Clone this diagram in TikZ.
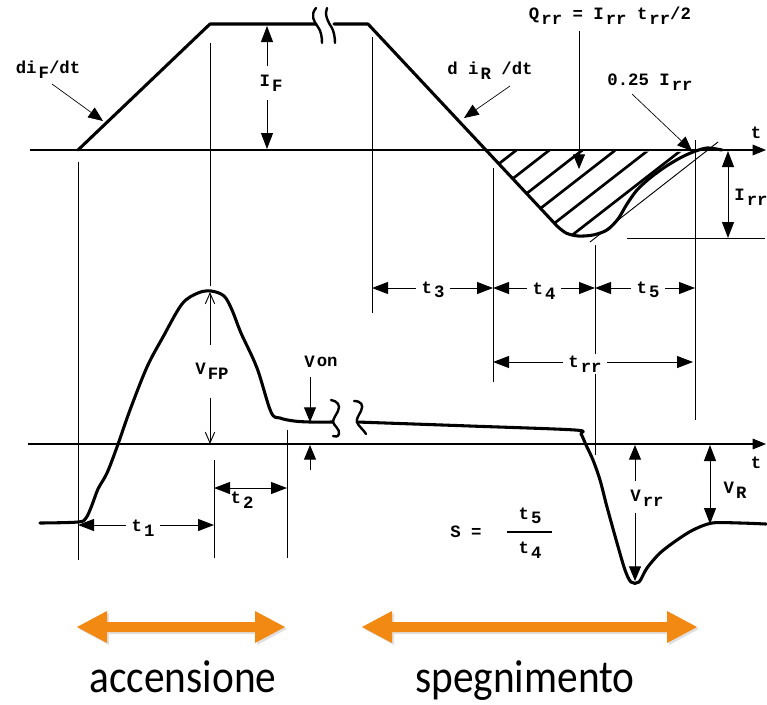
\documentclass[tikz,border=0pt]{standalone}
\usepackage{fontspec}
\setmainfont{Liberation Serif}
\newfontfamily\calfont{Carlito}
\newfontfamily\labfont{Liberation Mono}
\usetikzlibrary{arrows.meta,calc}
\definecolor{orangeA}{RGB}{242,137,18}
\newcommand{\lsb}[1]{\kern1.5pt\raisebox{-0.5ex}{#1}}
\begin{document}
\begin{tikzpicture}[x=0.75pt,y=-0.75pt,
  thinln/.style={line width=0.7pt},
  heavy/.style={line width=2.3pt, line join=round, line cap=round},
  brk/.style={line width=1.8pt, line cap=round},
  dimarr/.style={line width=0.7pt, {Triangle[length=12pt,width=9pt]}-{Triangle[length=12pt,width=9pt]}},
  onearr/.style={line width=0.7pt, -{Triangle[length=11pt,width=9pt]}},
  openarr/.style={line width=0.7pt, -{Straight Barb[length=8pt,width=7pt]}},
  axisarr/.style={line width=0.8pt, -{Triangle[length=10pt,width=8pt]}},
  ptrarr/.style={line width=0.5pt, -{Triangle[length=11pt,width=9pt]}},
  lbl/.style={font=\labfont\bfseries\fontsize{13}{15}\selectfont, inner sep=1.5pt},
  lblw/.style={lbl, fill=white, inner xsep=4pt},
  bigtxt/.style={font=\calfont\fontsize{31}{36}\selectfont, inner sep=0pt, anchor=base},
  orangedbl/.style={fill=orangeA}
]
\useasboundingbox (0,0) rectangle (767,704);

% ---------------- axes ----------------
\coordinate (ta0) at (30,150);  \coordinate (ta1) at (766,150);
\coordinate (va0) at (28,444);  \coordinate (va1) at (766,444);
\draw[axisarr] (ta0) -- (ta1);
\draw[axisarr] (va0) -- (va1);
\node[lbl] (tlabTop) at (756,133) {t};
\node[lbl] (tlabBot) at (756,463) {t};

% ---------------- vertical guide lines ----------------
\draw[thinln] (78,162) -- (78,560);
\draw[thinln] (210,43) -- (210,286);
\draw[thinln] (214,460) -- (214,558);
\draw[thinln] (287,430) -- (287,558);
\draw[thinln] (372,37) -- (372,313);
\draw[thinln] (493,168) -- (493,382);
\draw[thinln] (595,245) -- (595,455);
\draw[thinln] (695,140) -- (695,420);
\draw[thinln] (627,238) -- (765,238);

% ---------------- hatching ----------------
\begin{scope}
\clip (487,150) -- (557,226) -- plot[smooth] coordinates {(557,226) (566,233) (578,236) (593,235) (607,230) (618,219) (627,204) (637,190) (650,178) (665,167) (680,158) (693,152)} -- cycle;
\foreach \xx in {517,550,583,616,649,682}{
  \draw[line width=2pt] (\xx+15,138) -- ++(-180,140);
}
\end{scope}

% ---------------- current waveform ----------------
\draw[heavy] (78,150) -- (210,24) -- (316,24);
\draw[heavy] (334,24) -- (368,24) -- (557,226)
  -- plot[smooth] coordinates {(557,226) (566,233) (578,236) (593,235) (607,230) (618,219) (627,204) (637,190) (650,178) (665,167) (680,158) (693,152) (707,148) (722,150)};
\draw[thinln] (590,242) -- (718,142);
\draw[brk] (316,8) .. controls (310,15) and (314,22) .. (318,27) .. controls (321,31) and (322,37) .. (322,43);
\draw[brk] (327,8) .. controls (324,14) and (328,22) .. (332,28) .. controls (334,32) and (335,38) .. (335,43);

% ---------------- current labels ----------------
\node[lbl] (diF) at (48,70) {di\lsb{F}/dt};
\coordinate (diFs) at (52,84); \coordinate (diFe) at (103,121);
\draw[ptrarr] (diFs) -- (diFe);

\coordinate (IFt) at (267,26); \coordinate (IFb) at (267,149);
\draw[dimarr] (IFt) -- (IFb);
\node[lblw, inner ysep=7pt] (IF) at (271,83) {I\lsb{F}};

\node[lbl] (diR) at (490,71) {d i\lsb{R} /dt};
\coordinate (diRs) at (510,86); \coordinate (diRe) at (464,118);
\draw[ptrarr] (diRs) -- (diRe);

\node[lbl] (Qrr) at (610,16) {Q\lsb{rr} = I\lsb{rr} t\lsb{rr}/2};
\coordinate (Qs) at (579,31); \coordinate (Qe) at (579,169);
\draw[onearr] (Qs) -- (Qe);

\node[lbl] (q25) at (650,82) {0.25 I\lsb{rr}};
\coordinate (q25s) at (632,94); \coordinate (q25e) at (692,151);
\draw[ptrarr] (q25s) -- (q25e);

\coordinate (Irrt) at (728,151); \coordinate (Irrb) at (728,238);
\draw[dimarr] (Irrt) -- (Irrb);
\node[lbl] (Irr) at (751,197) {I\lsb{rr}};

% ---------------- time dimensions ----------------
\coordinate (t3a) at (372,288); \coordinate (t3b) at (493,288);
\coordinate (t4b) at (595,288); \coordinate (t5b) at (695,288);
\draw[dimarr] (t3a) -- (t3b);
\draw[dimarr] (t3b) -- (t4b);
\draw[dimarr] (t4b) -- (t5b);
\node[lblw] (t3) at (433,290) {t\lsb{3}};
\node[lblw] (t4) at (544,291) {t\lsb{4}};
\node[lblw] (t5) at (648,290) {t\lsb{5}};

\coordinate (trra) at (493,362); \coordinate (trrb) at (693,362);
\draw[dimarr] (trra) -- (trrb);
\node[lblw] (trr) at (585,364) {t\lsb{rr}};

\coordinate (t1a) at (78,525); \coordinate (t1b) at (214,525);
\draw[dimarr] (t1a) -- (t1b);
\node[lblw] (t1) at (143,528) {t\lsb{1}};

\coordinate (t2a) at (214,488); \coordinate (t2b) at (287,488);
\draw[dimarr] (t2a) -- (t2b);
\node[lbl] (t2) at (242,500) {t\lsb{2}};

% ---------------- voltage waveform ----------------
\draw[heavy] plot[smooth, tension=0.55] coordinates {(40,523) (78,522) (86,518) (92,505) (98,489) (107,473) (117,447) (130,410) (147,367) (163,337) (182,304) (198,293) (211,291) (224,296) (232,310) (241,333) (257,368) (271,412) (280,418) (294,421) (310,422) (333,422)};
\draw[brk] (331,400) .. controls (337,401) and (341,405) .. (338,411) .. controls (336,415) and (333,419) .. (333,422) .. controls (334,426) and (340,429) .. (339,434) .. controls (338,437) and (335,437) .. (333,436);
\draw[brk] (354,401) .. controls (361,401) and (364,405) .. (361,411) .. controls (359,415) and (356,419) .. (357,422) .. controls (358,426) and (364,430) .. (366,434);
\draw[heavy] plot[smooth, tension=0.5] coordinates {(357,422) (470,426) (575,430) (581,434) (586,445) (593,460) (600,480) (607,507) (617,543) (625,570) (631,582) (639,582) (647,568) (660,553) (677,540) (693,530) (712,523) (740,523) (766,524)};

% ---------------- voltage labels ----------------
\node[lbl] (VFP) at (212,371) {V\lsb{FP}};
\coordinate (VFPt) at (210,292); \coordinate (VFPb) at (210,444);
\draw[openarr] ($(VFPt)+(0,53)$) -- (VFPt);
\draw[openarr] ($(VFPb)+(0,-46)$) -- (VFPb);

\node[lbl] (Von) at (321,362) {V\kern1.5pt\raisebox{0.1ex}{on}};
\coordinate (Vont) at (310,377); \coordinate (Vonm) at (310,422);
\coordinate (Vonb) at (310,470); \coordinate (Vonz) at (310,445);
\draw[onearr] (Vont) -- (Vonm);
\draw[onearr] (Vonb) -- (Vonz);

\node[lbl] (Vrr) at (647,498) {V\lsb{rr}};
\coordinate (Vrrt) at (635,445); \coordinate (Vrrb) at (635,581);
\draw[onearr] ($(Vrrt)+(0,36)$) -- (Vrrt);
\draw[onearr] ($(Vrrb)+(0,-68)$) -- (Vrrb);

\coordinate (VRt) at (710,445); \coordinate (VRb) at (710,524);
\draw[dimarr] (VRt) -- (VRb);
\node[lbl] (VR) at (735,490) {V\lsb{R}};

\node[lbl] (Seq) at (466,532) {S =};
\draw[line width=0.8pt] (507,532) -- (552,532);
\node[lbl] (S5) at (530,516) {t\lsb{5}};
\node[lbl] (S4) at (530,550) {t\lsb{4}};

% ---------------- orange arrows ----------------
\foreach \xa/\xb/\nm in {77/285/accA, 362/697/spegA}{
  \fill[black!12] (\xa+2,629) -- (\xa+32,613) -- (\xa+32,624) -- (\xb-28,624) -- (\xb-28,613) -- (\xb+2,629) -- (\xb-28,645) -- (\xb-28,634) -- (\xa+32,634) -- (\xa+32,645) -- cycle;
  \fill[orangedbl] (\xa,627) -- (\xa+30,611) -- (\xa+30,622) -- (\xb-30,622) -- (\xb-30,611) -- (\xb,627) -- (\xb-30,643) -- (\xb-30,632) -- (\xa+30,632) -- (\xa+30,643) -- cycle;
}
\node[bigtxt] (acc) at (183,692) {\scalebox{1}[1.12]{accensione}};
\node[bigtxt] (speg) at (525,692) {\scalebox{1}[1.12]{spegnimento}};
\end{tikzpicture}
\end{document}
